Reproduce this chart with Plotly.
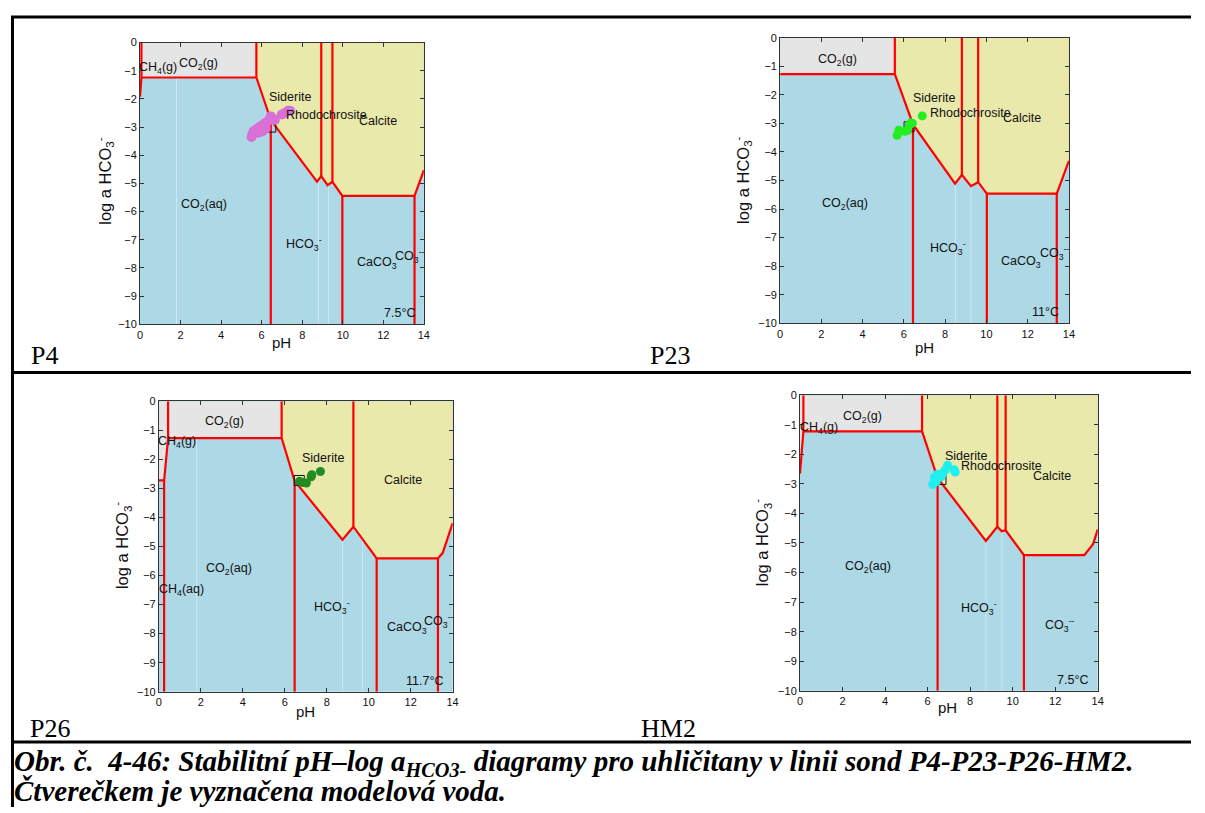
import plotly.graph_objects as go

# The page body keeps its default 8px margin; the figure starts at (8, 8) in the window.
OFF = 8
W, H = 1205 - 2 * OFF, 813 - OFF
FONT = "Liberation Sans, Arial, sans-serif"
SERIF = "Liberation Serif, Times New Roman, serif"
BLUE = "#ADD8E6"
GRAY = "#E5E5E5"
YELLOW = "#E9E9AB"
RED = "#FF0000"

# ---------------- P4 (7.5 °C) ----------------
P4_GAS_PH = [0.0, 5.74, 5.74, 0.07, 0.0]
P4_GAS_LOG = [0.0, 0.0, -1.24, -1.24, -1.92]
P4_SOLID_PH = [5.74, 5.74, 6.45, 8.73, 8.94, 9.25, 9.49, 9.98, 13.54, 14.0, 14.0]
P4_SOLID_LOG = [0.0, -1.24, -2.75, -4.94, -4.74, -5.06, -4.94, -5.44, -5.44, -4.53, 0.0]
P4_CH4_PH = [0.07, 0.07, 0.0]
P4_CH4_LOG = [0.0, -1.24, -1.92]
P4_VTOP_PH = [5.74, 8.94, 9.49]
P4_VTOP_LOG = [-1.24, -4.74, -4.94]
P4_VBOT_PH = [6.45, 9.98, 13.54]
P4_VBOT_LOG = [-2.75, -5.44, -5.44]
P4_FAINT_PH = [1.8, 8.8, 9.3]
P4_FAINT_LOG = [-1.24, -4.9, -5.0]
P4_PTS_PH = [5.5, 5.55, 5.6, 5.7, 5.8, 5.9, 6.0, 6.1, 6.2, 6.3, 6.4, 6.45, 6.55, 6.65, 6.05, 6.2, 5.85, 7.0, 7.15, 7.3, 7.4]
P4_PTS_LOG = [-3.35, -3.25, -3.15, -3.1, -3.05, -3.0, -2.95, -2.9, -2.85, -2.8, -2.7, -2.62, -2.7, -2.75, -3.15, -3.05, -3.2, -2.55, -2.5, -2.42, -2.42]
P4_MODEL = [6.45, -3.0]
P4_LABELS = ["CH<sub>4</sub>(g)", "CO<sub>2</sub>(g)", "Siderite", "Rhodochrosite", "Calcite",
             "CO<sub>2</sub>(aq)", "HCO<sub>3</sub><sup>-</sup>", "CaCO<sub>3</sub>", "CO<sub>3</sub><sup>--</sup>", "7.5°C"]
P4_LABEL_PH = [0.9, 2.89, 7.39, 9.18, 11.75, 3.18, 8.07, 11.7, 13.33, 12.8]
P4_LABEL_LOG = [-0.9, -0.76, -1.94, -2.56, -2.77, -5.76, -7.15, -7.83, -7.58, -9.59]

# ---------------- P23 (11 °C) ----------------
P23_GAS_PH = [0.0, 5.56, 5.56, 0.0]
P23_GAS_LOG = [0.0, 0.0, -1.28, -1.28]
P23_SOLID_PH = [5.56, 5.56, 6.44, 8.48, 8.81, 9.25, 9.6, 10.02, 13.41, 14.0, 14.0]
P23_SOLID_LOG = [0.0, -1.28, -3.04, -5.11, -4.8, -5.2, -5.06, -5.46, -5.46, -4.31, 0.0]
P23_CH4_PH = []
P23_CH4_LOG = []
P23_VTOP_PH = [5.56, 8.81, 9.6]
P23_VTOP_LOG = [-1.28, -4.8, -5.06]
P23_VBOT_PH = [6.44, 10.02, 13.41]
P23_VBOT_LOG = [-3.04, -5.46, -5.46]
P23_FAINT_PH = [8.5, 9.25]
P23_FAINT_LOG = [-5.1, -5.2]
P23_PTS_PH = [5.67, 5.75, 6.04, 6.17, 6.25, 6.33, 6.41, 6.89]
P23_PTS_LOG = [-3.42, -3.24, -3.28, -3.25, -3.05, -2.99, -3.0, -2.74]
P23_MODEL = [6.25, -3.12]
P23_LABELS = ["CO<sub>2</sub>(g)", "Siderite", "Rhodochrosite", "Calcite",
              "CO<sub>2</sub>(aq)", "HCO<sub>3</sub><sup>-</sup>", "CaCO<sub>3</sub>", "CO<sub>3</sub><sup>--</sup>", "11°C"]
P23_LABEL_PH = [2.76, 7.48, 9.21, 11.73, 3.16, 8.13, 11.7, 13.33, 12.88]
P23_LABEL_LOG = [-0.78, -2.13, -2.64, -2.82, -5.84, -7.36, -7.85, -7.53, -9.62]

# ---------------- P26 (11.7 °C) ----------------
P26_GAS_PH = [0.0, 5.85, 5.85, 0.44, 0.25, 0.0]
P26_GAS_LOG = [0.0, 0.0, -1.27, -1.27, -2.73, -2.73]
P26_SOLID_PH = [5.85, 5.85, 6.47, 8.75, 9.27, 10.38, 13.3, 13.53, 14.0, 14.0]
P26_SOLID_LOG = [0.0, -1.27, -2.75, -4.77, -4.32, -5.41, -5.41, -5.22, -4.2, 0.0]
P26_CH4_PH = [0.44, 0.44, 0.25, 0.25, None, 0.0, 0.25]
P26_CH4_LOG = [0.0, -1.27, -2.73, -10.0, None, -2.73, -2.73]
P26_VTOP_PH = [5.85, 9.27]
P26_VTOP_LOG = [-1.27, -4.32]
P26_VBOT_PH = [6.47, 10.38, 13.3]
P26_VBOT_LOG = [-2.75, -5.41, -5.41]
P26_FAINT_PH = [1.8, 8.75, 9.7]
P26_FAINT_LOG = [-1.27, -4.8, -4.7]
P26_PTS_PH = [6.7, 6.86, 7.03, 7.26, 7.29, 7.7]
P26_PTS_LOG = [-2.76, -2.8, -2.82, -2.6, -2.53, -2.42]
P26_MODEL = [6.69, -2.73]
P26_LABELS = ["CO<sub>2</sub>(g)", "CH<sub>4</sub>(g)", "Siderite", "Calcite", "CO<sub>2</sub>(aq)",
              "CH<sub>4</sub>(aq)", "HCO<sub>3</sub><sup>-</sup>", "CaCO<sub>3</sub>", "CO<sub>3</sub><sup>--</sup>", "11.7°C"]
P26_LABEL_PH = [3.12, 0.88, 7.82, 11.64, 3.33, 1.07, 8.25, 11.83, 13.34, 12.67]
P26_LABEL_LOG = [-0.72, -1.4, -1.94, -2.71, -5.79, -6.49, -7.08, -7.82, -7.57, -9.63]

# ---------------- HM2 (7.5 °C) ----------------
HM2_GAS_PH = [0.0, 5.74, 5.74, 0.16, 0.0]
HM2_GAS_LOG = [0.0, 0.0, -1.22, -1.22, -2.65]
HM2_SOLID_PH = [5.74, 5.74, 6.47, 8.74, 9.28, 9.49, 9.67, 10.53, 13.37, 13.78, 14.0, 14.0]
HM2_SOLID_LOG = [0.0, -1.22, -2.8, -4.93, -4.45, -4.6, -4.57, -5.41, -5.41, -5.04, -4.54, 0.0]
HM2_CH4_PH = [0.16, 0.16, 0.0]
HM2_CH4_LOG = [0.0, -1.22, -2.65]
HM2_VTOP_PH = [5.74, 9.28, 9.67]
HM2_VTOP_LOG = [-1.22, -4.45, -4.57]
HM2_VBOT_PH = [6.47, 10.53]
HM2_VBOT_LOG = [-2.8, -5.41]
HM2_FAINT_PH = [8.75, 9.5]
HM2_FAINT_LOG = [-4.9, -4.6]
HM2_PTS_PH = [6.24, 6.32, 6.4, 6.47, 6.63, 6.71, 6.82, 6.94, 7.25, 7.3]
HM2_PTS_LOG = [-3.02, -2.78, -2.93, -2.67, -2.76, -2.65, -2.54, -2.37, -2.52, -2.6]
HM2_MODEL = [6.63, -2.85]
HM2_LABELS = ["CO<sub>2</sub>(g)", "CH<sub>4</sub>(g)", "Siderite", "Rhodochrosite", "Calcite",
              "CO<sub>2</sub>(aq)", "HCO<sub>3</sub><sup>-</sup>", "CO<sub>3</sub><sup>--</sup>", "7.5°C"]
HM2_LABEL_PH = [2.96, 0.89, 7.8, 9.47, 11.86, 3.2, 8.42, 12.25, 12.82]
HM2_LABEL_LOG = [-0.73, -1.11, -2.04, -2.41, -2.74, -5.8, -7.19, -7.77, -9.64]

PANEL_NAMES = ["P4", "P23", "P26", "HM2"]
POINT_COLORS = ["#DA70D6", "#22EE22", "#228B22", "#1EF0F0"]
POINT_SIZES = [10, 9, 9, 9]

# pixel layout of the page (window pixels): axes boxes, panel names, axis titles
AX_BOX = [(138, 424, 37, 323), (783, 1074, 32, 322), (157, 453, 401, 696), (803, 1103, 395, 695)]
NAME_POS = [(42, 355), (672, 355), (47, 733), (671, 733)]
XT_POS = [(281, 341), (928, 347), (305, 716), (952, 712)]
YT_POS = [(103, 178), (746, 177), (120, 548), (765, 545)]

panels = [
    (P4_GAS_PH, P4_GAS_LOG, P4_SOLID_PH, P4_SOLID_LOG, P4_CH4_PH, P4_CH4_LOG, P4_VTOP_PH, P4_VTOP_LOG,
     P4_VBOT_PH, P4_VBOT_LOG, P4_FAINT_PH, P4_FAINT_LOG, P4_PTS_PH, P4_PTS_LOG, P4_MODEL, P4_LABELS, P4_LABEL_PH, P4_LABEL_LOG),
    (P23_GAS_PH, P23_GAS_LOG, P23_SOLID_PH, P23_SOLID_LOG, P23_CH4_PH, P23_CH4_LOG, P23_VTOP_PH, P23_VTOP_LOG,
     P23_VBOT_PH, P23_VBOT_LOG, P23_FAINT_PH, P23_FAINT_LOG, P23_PTS_PH, P23_PTS_LOG, P23_MODEL, P23_LABELS, P23_LABEL_PH, P23_LABEL_LOG),
    (P26_GAS_PH, P26_GAS_LOG, P26_SOLID_PH, P26_SOLID_LOG, P26_CH4_PH, P26_CH4_LOG, P26_VTOP_PH, P26_VTOP_LOG,
     P26_VBOT_PH, P26_VBOT_LOG, P26_FAINT_PH, P26_FAINT_LOG, P26_PTS_PH, P26_PTS_LOG, P26_MODEL, P26_LABELS, P26_LABEL_PH, P26_LABEL_LOG),
    (HM2_GAS_PH, HM2_GAS_LOG, HM2_SOLID_PH, HM2_SOLID_LOG, HM2_CH4_PH, HM2_CH4_LOG, HM2_VTOP_PH, HM2_VTOP_LOG,
     HM2_VBOT_PH, HM2_VBOT_LOG, HM2_FAINT_PH, HM2_FAINT_LOG, HM2_PTS_PH, HM2_PTS_LOG, HM2_MODEL, HM2_LABELS, HM2_LABEL_PH, HM2_LABEL_LOG),
]


def fx(px):
    return (px - OFF) / W


def fy(py):
    return 1 - (py - OFF) / H


fig = go.Figure()
annotations = []
layout_axes = {}

for i, p in enumerate(panels):
    (gx, gy, sx, sy, cx, cy, vtx, vty, vbx, vby, fpx, fpy, ptx, pty, model, labs, lx, ly) = p
    n = "" if i == 0 else str(i + 1)
    xa, ya = "x" + n, "y" + n
    kw = dict(xaxis=xa, yaxis=ya, showlegend=False, hoverinfo="skip")

    # stability fields
    fig.add_trace(go.Scatter(x=gx, y=gy, fill="toself", fillcolor=GRAY, mode="none", **kw))
    fig.add_trace(go.Scatter(x=sx, y=sy, fill="toself", fillcolor=YELLOW, mode="none", **kw))

    # faint internal lines
    fxs, fys = [], []
    for a, b in zip(fpx, fpy):
        fxs += [a, a, None]
        fys += [-10, b, None]
    fig.add_trace(go.Scatter(x=fxs, y=fys, mode="lines",
                             line=dict(color="rgba(255,255,255,0.4)", width=1), **kw))

    # red field boundaries
    rx, ry = [], []
    rx += [gx[3] if i != 1 else 0.0, sx[1], None]
    ry += [sy[1], sy[1], None]
    rx += sx[1:-1] + [None]
    ry += sy[1:-1] + [None]
    for a, b in zip(vtx, vty):
        rx += [a, a, None]
        ry += [0, b, None]
    for a, b in zip(vbx, vby):
        rx += [a, a, None]
        ry += [b, -10, None]
    rx += list(cx) + [None]
    ry += list(cy) + [None]
    fig.add_trace(go.Scatter(x=rx, y=ry, mode="lines", line=dict(color=RED, width=2.2), **kw))

    # model water (under the samples)
    fig.add_trace(go.Scatter(x=[model[0]], y=[model[1]], mode="markers",
                             marker=dict(symbol="square-open", color="#111111", size=10,
                                         line=dict(width=1)), **kw))
    # samples
    fig.add_trace(go.Scatter(x=ptx, y=pty, mode="markers",
                             marker=dict(color=POINT_COLORS[i], size=POINT_SIZES[i]), **kw))

    for t, a, b in zip(labs, lx, ly):
        annotations.append(dict(text=t, x=a, y=b, xref=xa, yref=ya, showarrow=False,
                                xanchor="center", yanchor="middle",
                                font=dict(family=FONT, size=12.5, color="#111111")))

    x0, x1, y0, y1 = AX_BOX[i]
    axcommon = dict(showline=True, linecolor="#333333", linewidth=1, mirror="ticks",
                    ticks="inside", ticklen=4, tickcolor="#333333", showgrid=False,
                    zeroline=False, tickfont=dict(family=FONT, size=11, color="#111111"))
    layout_axes["xaxis" + n] = dict(domain=[fx(x0), fx(x1)], range=[0, 14], dtick=2, tick0=0,
                                    anchor=ya, **axcommon)
    layout_axes["yaxis" + n] = dict(domain=[fy(y1), fy(y0)], range=[-10, 0], dtick=1, tick0=0,
                                    anchor=xa, **axcommon)

    annotations.append(dict(text="pH", x=fx(XT_POS[i][0]), y=fy(XT_POS[i][1]), xref="paper", yref="paper",
                            xanchor="center", yanchor="middle", showarrow=False,
                            font=dict(family=FONT, size=15, color="#111111")))
    annotations.append(dict(text="log a HCO<sub>3</sub><sup>-</sup>", x=fx(YT_POS[i][0]), y=fy(YT_POS[i][1]),
                            xref="paper", yref="paper", textangle=-90, showarrow=False,
                            xanchor="center", yanchor="middle",
                            font=dict(family=FONT, size=16.5, color="#111111")))
    annotations.append(dict(text=PANEL_NAMES[i], x=fx(NAME_POS[i][0]), y=fy(NAME_POS[i][1]),
                            xref="paper", yref="paper", showarrow=False, xanchor="center", yanchor="middle",
                            font=dict(family=SERIF, size=26, color="black")))

CAPTION_1 = "Obr. č.  4-46: Stabilitní pH–log a<sub>HCO3-</sub> diagramy pro uhličitany v linii sond P4-P23-P26-HM2."
CAPTION_2 = "Čtverečkem je vyznačena modelová voda."
annotations.append(dict(text="<b><i>" + CAPTION_1 + "</i></b>", x=fx(9), y=fy(768), xref="paper", yref="paper",
                        xanchor="left", yanchor="middle", showarrow=False,
                        font=dict(family=SERIF, size=29, color="black")))
annotations.append(dict(text="<b><i>" + CAPTION_2 + "</i></b>", x=fx(9), y=fy(797), xref="paper", yref="paper",
                        xanchor="left", yanchor="middle", showarrow=False,
                        font=dict(family=SERIF, size=29, color="black")))

# table rules
shapes = []
lw = 3
shapes.append(dict(type="line", xref="paper", yref="paper", x0=1.5 / W, x1=1.5 / W, y0=fy(10), y1=0,
                   line=dict(color="black", width=lw)))
for yy in [11, 372, 747]:
    shapes.append(dict(type="line", xref="paper", yref="paper", x0=0, x1=1.0, y0=fy(yy), y1=fy(yy),
                       line=dict(color="black", width=lw)))

fig.update_layout(width=W, height=H, margin=dict(l=0, r=0, t=0, b=0),
                  paper_bgcolor="white", plot_bgcolor=BLUE,
                  annotations=annotations, shapes=shapes, **layout_axes)

fig.write_html("out.html", config={"displayModeBar": False})
